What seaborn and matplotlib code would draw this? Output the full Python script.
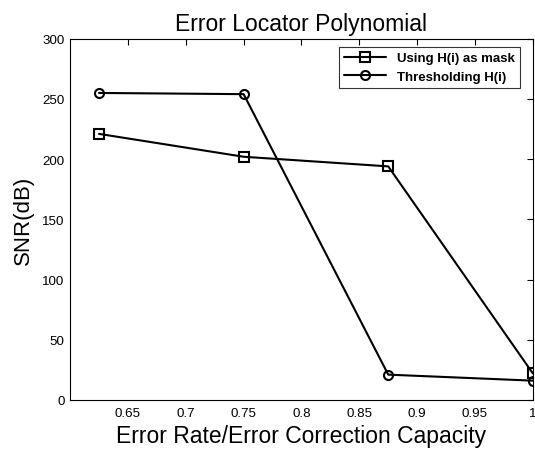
import matplotlib
matplotlib.use("Agg")
import matplotlib.pyplot as plt
import pandas as pd
import seaborn as sns

ratio = [0.625, 0.75, 0.875, 1.0]
snr_mask = [221, 202, 194, 22]
snr_thresh = [255, 254, 21, 16]
series_names = ["Using H(i) as mask", "Thresholding H(i)"]
x_ticks = [0.65, 0.7, 0.75, 0.8, 0.85, 0.9, 0.95, 1.0]
x_tick_labels = ["0.65", "0.7", "0.75", "0.8", "0.85", "0.9", "0.95", "1"]
y_ticks = [0, 50, 100, 150, 200, 250, 300]

df = pd.DataFrame({
    "ratio": ratio * 2,
    "snr": snr_mask + snr_thresh,
    "series": [series_names[0]] * 4 + [series_names[1]] * 4,
})

sns.set_style("white")
plt.rcParams["font.family"] = ["Liberation Sans", "DejaVu Sans"]
plt.rcParams.update({
    "text.color": "black",
    "axes.labelcolor": "black",
    "xtick.color": "black",
    "ytick.color": "black",
})

fig = plt.figure(figsize=(5.35, 4.52), dpi=100)
ax = fig.add_axes([0.131, 0.113, 0.865, 0.799])

sns.lineplot(data=df, x="ratio", y="snr", style="series", markers=["s", "o"],
             dashes=False, color="black", linewidth=1.5, markersize=6.5,
             markerfacecolor="none", markeredgecolor="black", markeredgewidth=1.5,
             ax=ax)

ax.set_xlim(0.6, 1.0)
ax.set_ylim(0, 300)
ax.set_xticks(x_ticks)
ax.set_xticklabels(x_tick_labels)
ax.set_yticks(y_ticks)
ax.tick_params(direction="in", top=True, right=True, length=4, labelsize=9.6, width=0.8)
ax.tick_params(axis="x", pad=5)
ax.tick_params(axis="y", pad=4)
for s in ax.spines.values():
    s.set_color("black")
    s.set_linewidth(0.8)

ax.set_title("Error Locator Polynomial", fontsize=16.5, pad=6)
ax.set_xlabel("Error Rate/Error Correction Capacity", fontsize=16.5, labelpad=4)
ax.set_ylabel("SNR(dB)", fontsize=16, labelpad=6)

leg = ax.legend(loc="upper right", bbox_to_anchor=(0.972, 0.978), borderaxespad=0,
                frameon=True, fancybox=False, edgecolor="black", handlelength=3.2,
                prop={"weight": "bold", "size": 9.5})
leg.get_frame().set_linewidth(0.8)
for t in leg.get_texts():
    t.set_color("black")

fig.savefig("out.png", dpi=100)
